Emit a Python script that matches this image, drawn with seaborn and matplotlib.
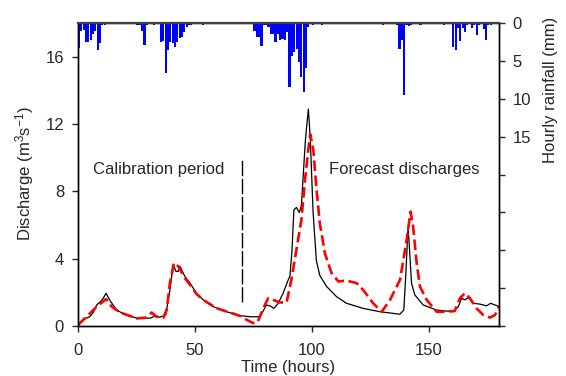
import numpy as np
import pandas as pd
import matplotlib
matplotlib.use("Agg")
import matplotlib.pyplot as plt
import seaborn as sns

# ---------------- data ----------------
obs_hours = [0, 2.3, 5, 6.5, 8, 10, 11, 12, 13.5, 16.5, 19.5, 25, 31, 33, 35, 37.5,
             39.3, 40.7, 41.9, 42.9, 43.6, 45.7, 47.9, 50.7, 53.6, 57.8, 63.5, 69.2,
             73.5, 77.8, 80.6, 82, 83.8, 85.6, 87.7, 89.9, 90.6, 91.5, 92.3, 93.4, 94.6,
             95.5, 97.2, 98, 98.5, 99.3, 100.5, 101.9, 103.4, 106.3, 110.5, 114.8, 121.9,
             129, 134.8, 137.6, 139.3, 140.2, 141.1, 141.6, 142.6, 144, 147.6, 153.3,
             160.4, 162.6, 164, 165.4, 166.9, 169, 171.9, 174.7, 176.4, 178.3, 180]
obs_q = [0.1, 0.4, 0.55, 0.8, 1.25, 1.5, 1.7, 1.95, 1.55, 0.95, 0.72, 0.47, 0.47, 0.6, 0.52, 0.65,
         2.15, 3.64, 3.25, 3.25, 3.55, 2.95, 2.54, 1.95, 1.55, 1.15, 0.85, 0.62,
         0.55, 0.55, 1.25, 1.2, 1.05, 1.35, 1.95, 2.75, 2.95, 4.5, 6.9, 7.05, 6.75,
         7.15, 11.0, 12.2, 12.9, 11.2, 6.8, 3.9, 3.0, 2.35, 1.75, 1.35, 1.05,
         0.85, 0.75, 0.7, 0.95, 3.15, 5.85, 4.9, 2.55, 1.85, 1.25, 0.95,
         0.85, 1.15, 1.65, 1.55, 1.7, 1.35, 1.3, 1.2, 1.35, 1.25, 1.15]

sim_hours = [0, 3.7, 8, 12, 14.4, 18.1, 25.1, 29.3, 31.5, 33.6, 36.5, 37.9, 39.3, 41, 42.9,
             45.7, 47.9, 50.7, 53.6, 59.3, 65, 69.2, 72.1, 74.9, 76.7, 78.9, 81.3, 83.5,
             86.3, 89.2, 91.3, 93.4, 95.5, 97, 98.4, 99.3, 100.6, 102, 103.4, 105.6, 108.4,
             111.3, 114.8, 119.1, 121.9, 126.2, 129.9, 133.4, 137.7, 140.5, 142.2, 143.3,
             144.8, 146.2, 149.1, 153.3, 157.6, 161.1, 163.3, 165.4, 167.6, 170.4, 173.3,
             176.1, 178.3, 180]
sim_q = [0.06, 0.55, 1.15, 1.6, 1.15, 0.8, 0.45, 0.5, 0.8, 0.55, 0.5, 0.95, 2.55, 3.75, 3.55,
         2.85, 2.45, 1.9, 1.55, 1.05, 0.8, 0.6, 0.37, 0.17, 0.2, 0.95, 1.65, 1.55,
         1.4, 1.4, 2.8, 4.55, 6.3, 8.6, 10.4, 11.4, 10.5, 8.1, 6.1, 4.3, 3.15,
         2.65, 2.7, 2.55, 2.15, 1.35, 0.85, 1.55, 2.75, 5.1, 6.8, 5.9,
         3.75, 2.35, 1.55, 0.85, 0.85, 0.9, 1.65, 1.95, 1.65, 1.05, 0.65,
         0.5, 0.65, 1.15]

rain_hours = [0, 1, 2, 3, 4, 5, 6, 7, 8, 9, 10, 11,
              25, 26, 27, 28, 29, 32,
              35, 36, 37, 38, 39, 40, 41, 42, 43, 44, 45, 46, 47, 48, 53,
              75, 76, 77, 78, 79, 80, 81, 82, 83, 84, 85, 86, 87, 88, 89, 90, 91, 92,
              93, 94, 95, 96, 97, 98, 100, 104, 130,
              136, 137, 138, 139, 140, 141, 142, 146, 156,
              160, 161, 162, 163, 164, 165, 166, 168, 169, 170, 171, 173, 174, 175, 176]
rain_mm = [3.3, 1.0, 0.9, 2.5, 2.5, 2.3, 1.5, 1.0, 3.5, 2.7, 0.3, 0.2,
           0.2, 0.3, 1.0, 2.9, 0.3, 0.2,
           2.5, 2.4, 6.6, 3.6, 2.5, 2.7, 3.2, 2.5, 2.0, 1.9, 1.2, 0.5, 0.3, 0.2, 0.2,
           1.0, 1.8, 1.8, 3.0, 0.3, 0.2, 0.5, 1.5, 1.5, 2.5, 1.4, 2.3, 2.1, 2.3, 1.2, 8.4, 4.3, 3.8,
           3.4, 5.1, 7.1, 9.1, 6.0, 0.5, 0.2, 0.2, 0.2,
           0.2, 3.4, 2.2, 9.5, 0.3, 0.4, 0.2, 0.2, 0.2,
           3.2, 3.5, 0.7, 2.4, 0.7, 1.2, 0.2, 0.6, 0.3, 1.6, 0.2, 0.8, 2.2, 0.3, 0.2]

x_ticks = [0, 50, 100, 150]
y_ticks = [0, 4, 8, 12, 16]
rain_ticks = [0, 5, 10, 15, 20, 25, 30, 35, 40]
rain_tick_labels = ["0", "5", "10", "15", "", "", "", "", ""]

# ---------------- style ----------------
sns.set_style("ticks")
plt.rcParams["font.family"] = ["Liberation Sans", "DejaVu Sans"]
plt.rcParams["mathtext.fontset"] = "custom"
plt.rcParams["mathtext.rm"] = "Liberation Sans"
plt.rcParams["mathtext.it"] = "Liberation Sans:italic"
plt.rcParams["font.size"] = 12

fig = plt.figure(figsize=(5.66, 3.76), dpi=100)
ax = fig.add_axes([0.1378, 0.133, 0.7438, 0.8058])

obs_df = pd.DataFrame({"hour": obs_hours, "q": obs_q})
sim_df = pd.DataFrame({"hour": sim_hours, "q": sim_q})

sns.lineplot(data=obs_df, x="hour", y="q", ax=ax, color="black", lw=0.9,
             estimator=None, sort=False)
sns.lineplot(data=sim_df, x="hour", y="q", ax=ax, color="#ff0000", lw=1.9,
             linestyle=(0, (4, 1.7)), estimator=None, sort=False)

# calibration / forecast separator
ax.plot([70, 70], [1.4, 9.9], color="black", lw=1.0, linestyle=(0, (11, 2)))

ax.text(6.4, 9.3, "Calibration period", fontsize=12, va="center", ha="left")
ax.text(107.3, 9.3, "Forecast discharges", fontsize=12, va="center", ha="left")

ax.set_xlim(0, 180)
ax.set_ylim(0, 18.02)
ax.set_xticks(x_ticks)
ax.set_yticks(y_ticks)
ax.set_xlabel("Time (hours)", fontsize=12)
ax.set_ylabel("Discharge (m$^3$s$^{-1}$)", fontsize=12)
ax.xaxis.set_label_coords(0.5, -0.112)
ax.yaxis.set_label_coords(-0.0998, 0.502)
ax.tick_params(axis="x", direction="out", length=4, width=1, labelsize=12, pad=8)
ax.tick_params(axis="y", direction="out", length=4, width=1, labelsize=12, pad=6)

# rainfall on inverted secondary axis
ax2 = ax.twinx()
ax2.bar(rain_hours, rain_mm, width=0.9, align="edge", color="#0000ff", linewidth=0)
ax2.set_ylim(40, 0)
ax2.set_yticks(rain_ticks)
ax2.set_yticklabels(rain_tick_labels)
ax2.set_ylabel("Hourly rainfall (mm)", fontsize=12, rotation=90)
ax2.yaxis.set_label_coords(1.105, 0.779)
ax2.tick_params(axis="y", direction="out", length=4, width=1, labelsize=12, pad=6)

for a in (ax, ax2):
    for s in a.spines.values():
        s.set_visible(True)
        s.set_linewidth(1.0)
        s.set_color("black")
ax2.spines["top"].set_color("#404040")
ax2.spines["top"].set_linewidth(1.6)

fig.savefig("out.png", dpi=100)
